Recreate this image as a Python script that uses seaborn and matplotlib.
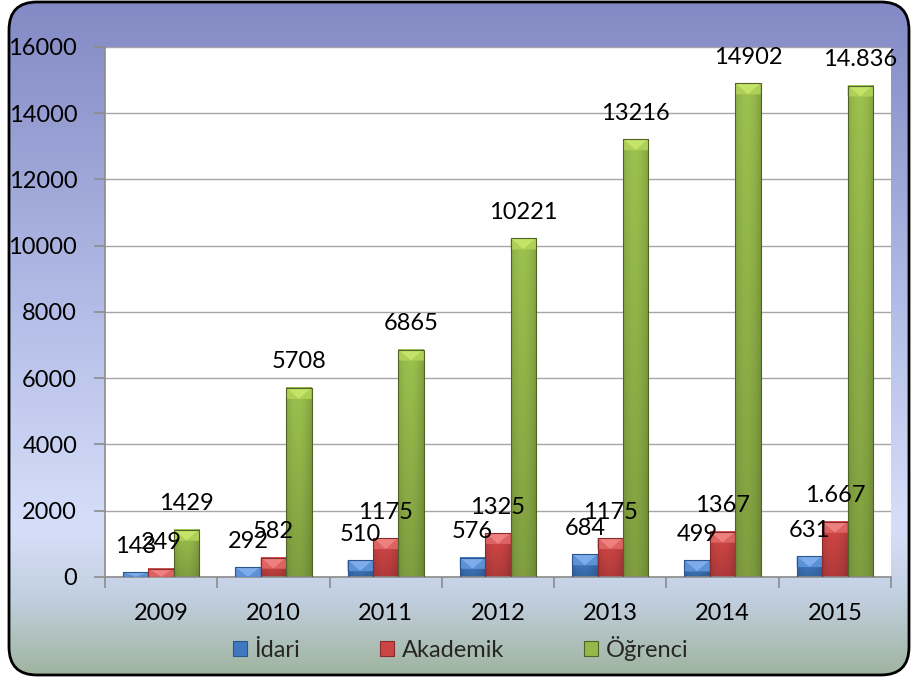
import numpy as np
import pandas as pd
import matplotlib
matplotlib.use("Agg")
import matplotlib.pyplot as plt
import seaborn as sns
from matplotlib.patches import FancyBboxPatch, Polygon, Patch
from matplotlib.colors import LinearSegmentedColormap, to_rgb

# ---- data ----
years = ["2009", "2010", "2011", "2012", "2013", "2014", "2015"]
series = ["İdari", "Akademik", "Öğrenci"]
idari = [143, 292, 510, 576, 684, 499, 631]
akademik = [249, 582, 1175, 1325, 1175, 1367, 1667]
ogrenci = [1429, 5708, 6865, 10221, 13216, 14902, 14836]
idari_labels = ["143", "292", "510", "576", "684", "499", "631"]
akademik_labels = ["249", "582", "1175", "1325", "1175", "1367", "1.667"]
ogrenci_labels = ["1429", "5708", "6865", "10221", "13216", "14902", "14.836"]
yticks = [0, 2000, 4000, 6000, 8000, 10000, 12000, 14000, 16000]

base_colors = ["#3f78c0", "#cc4444", "#94b84a"]
edge_colors = ["#2a558f", "#8a2a2a", "#4f6228"]
light_colors = ["#7eacea", "#ee8080", "#c4e468"]
side_colors = ["#5b91d6", "#dd6262", "#aed056"]

sns.set_theme(style="white")
plt.rcParams["font.family"] = ["Lato", "DejaVu Sans"]
FS = 17

fig = plt.figure(figsize=(9.12, 6.8), dpi=100)
fig.patch.set_facecolor("white")

# ---- background with rounded border ----
bg = fig.add_axes([0, 0, 1, 1], zorder=-10)
bg.set_xlim(0, 912)
bg.set_ylim(0, 680)
bg.axis("off")
cmap = LinearSegmentedColormap.from_list(
    "bg", [(0, "#8389c4"), (0.45, "#b3bce6"), (0.78, "#d6dff9"),
           (0.88, "#c2cfe0"), (1, "#9db39b")])
grad = np.linspace(0, 1, 256).reshape(-1, 1)
im = bg.imshow(grad, cmap=cmap, extent=(0, 912, 0, 680), origin="upper",
               aspect="auto", interpolation="bilinear")
box = FancyBboxPatch((9, 5), 900, 673, boxstyle="round,pad=0,rounding_size=28",
                     transform=bg.transData, facecolor="none",
                     edgecolor="black", lw=2, zorder=5)
bg.add_patch(box)
im.set_clip_path(box)
bg.set_xlim(0, 912)
bg.set_ylim(0, 680)

# ---- main axes ----
ax = fig.add_axes([0.1151, 0.1515, 0.8619, 0.7794])
ax.set_facecolor("white")
df = pd.DataFrame({
    "Yıl": years * 3,
    "Seri": [s for s in series for _ in years],
    "Değer": idari + akademik + ogrenci,
})
sns.barplot(data=df, x="Yıl", y="Değer", hue="Seri", palette=base_colors,
            width=0.68, ax=ax, legend=False, saturation=1, errorbar=None)

ax.set_xlim(-0.5, 6.5)
ax.set_ylim(0, 16000)
ax.set_yticks(yticks)
ax.set_axisbelow(True)
ax.yaxis.grid(True, color="#a6a6a6", lw=1)
ax.xaxis.grid(False)
ax.set_xlabel("")
ax.set_ylabel("")
for s in ["top", "right"]:
    ax.spines[s].set_visible(False)
for s in ["left", "bottom"]:
    ax.spines[s].set_color("#8c8c8c")
    ax.spines[s].set_linewidth(1.2)
ax.tick_params(axis="y", left=True, length=8, width=1.2, color="#8c8c8c",
               pad=12, labelsize=FS, labelcolor="black")
ax.tick_params(axis="x", bottom=True, length=0, pad=19, labelsize=FS,
               labelcolor="black")
ax.set_xticks(np.arange(-0.5, 7, 1), minor=True)
ax.tick_params(axis="x", which="minor", bottom=True, length=8, width=1.2,
               color="#8c8c8c")

# ---- bar shading & labels ----
px_per_unit = ax.bbox.height / 16000.0
d = 11 / px_per_unit
all_labels = [idari_labels, akademik_labels, ogrenci_labels]
for k, cont in enumerate(ax.containers):
    base = np.array(to_rgb(base_colors[k]))
    for bar, lbl in zip(cont, all_labels[k]):
        x0, w, h = bar.get_x(), bar.get_width(), bar.get_height()
        bar.set_facecolor("none")
        bar.set_edgecolor(edge_colors[k])
        bar.set_linewidth(0.8)
        bar.set_zorder(4)
        # body gradient
        vy = np.linspace(1.05, 0.86, 64).reshape(-1, 1, 1)
        xx = np.linspace(0, 1, 32)
        hx = 1.0 - 0.16 * np.clip(np.abs(xx - 0.45) / 0.55, 0, 1) ** 2
        img = np.clip(base[None, None, :] * vy * hx.reshape(1, -1, 1), 0, 1)
        ax.imshow(img, extent=(x0, x0 + w, 0, h), origin="upper",
                  aspect="auto", interpolation="bilinear", zorder=2)
        # bevel top
        dd = min(d, h)
        xc = x0 + w / 2
        ax.add_patch(Polygon([(x0, h), (xc, h - dd), (x0, h - dd)],
                             closed=True, facecolor=side_colors[k],
                             edgecolor="none", zorder=3))
        ax.add_patch(Polygon([(x0 + w, h), (xc, h - dd), (x0 + w, h - dd)],
                             closed=True, facecolor=side_colors[k],
                             edgecolor="none", zorder=3))
        ax.add_patch(Polygon([(x0, h), (x0 + w, h), (xc, h - dd)],
                             closed=True, facecolor=light_colors[k],
                             edgecolor="none", zorder=3))
        ax.annotate(lbl, (xc, h), xytext=(0, 26), textcoords="offset pixels",
                    ha="center", va="center", fontsize=FS, color="black",
                    zorder=6, annotation_clip=False)

ax.set_xlim(-0.5, 6.5)
ax.set_ylim(0, 16000)

# ---- legend ----
handles = [Patch(facecolor=base_colors[i], edgecolor=edge_colors[i], lw=0.8)
           for i in range(3)]
fig.legend(handles, series, loc="center", bbox_to_anchor=(0.505, 0.047),
           ncol=3, frameon=False, fontsize=FS, handlelength=0.6,
           handleheight=0.6, handletextpad=0.3, columnspacing=3.4)

fig.savefig("out.png", dpi=100)
